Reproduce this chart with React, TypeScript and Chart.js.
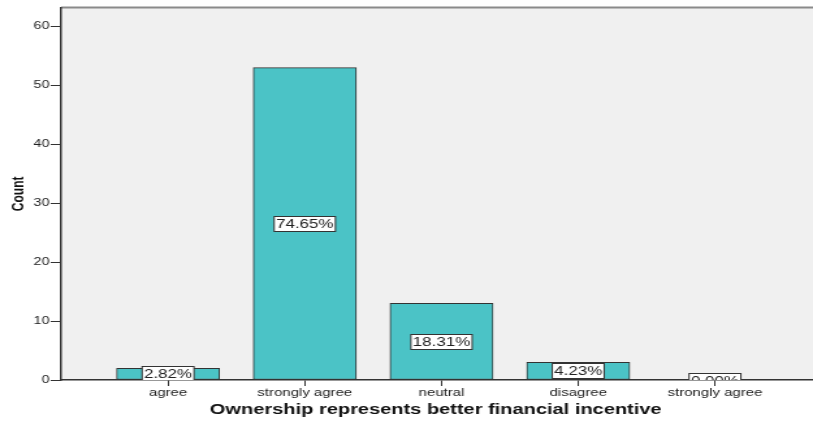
import React, { useEffect, useRef } from 'react';
import { Chart, registerables } from 'chart.js';
Chart.register(...registerables);

const categories = ['agree', 'strongly agree', 'neutral', 'disagree', 'strongly agree'];
const counts = [2, 53, 13, 3, 0];
const percentLabels = ['2.82%', '74.65%', '18.31%', '4.23%', '0.00%'];
const yTickValues = [0, 10, 20, 30, 40, 50, 60];
const xTitle = 'Ownership represents better financial incentive';
const yTitle = 'Count';

const FONT = '"Liberation Sans", Arial, sans-serif';
// The reference is an SPSS chart stretched horizontally; draw in a narrower canvas and stretch it.
const DISPLAY_W = 813;
const DISPLAY_H = 425;
const CANVAS_W = 625;

export default function App() {
  const ref = useRef<HTMLCanvasElement>(null);
  useEffect(() => {
    const canvas = ref.current!;
    const plugin = {
      id: 'spssLook',
      beforeDraw(chart: any) {
        const { ctx, chartArea: a } = chart;
        ctx.save();
        ctx.fillStyle = '#f0f0f0';
        ctx.fillRect(a.left, a.top, a.right - a.left, a.bottom - a.top);
        ctx.strokeStyle = '#8a8a8a';
        ctx.lineWidth = 2;
        ctx.beginPath();
        ctx.moveTo(a.left, a.top);
        ctx.lineTo(a.right, a.top);
        ctx.stroke();
        ctx.restore();
      },
      afterDatasetsDraw(chart: any) {
        const { ctx, chartArea: a } = chart;
        const meta = chart.getDatasetMeta(0);
        ctx.save();
        ctx.beginPath();
        ctx.rect(a.left, a.top, a.right - a.left, a.bottom - a.top);
        ctx.clip();
        ctx.font = '13px ' + FONT;
        ctx.textBaseline = 'middle';
        ctx.textAlign = 'center';
        meta.data.forEach((bar: any, i: number) => {
          const text = percentLabels[i];
          const cx = bar.x;
          const cy = (bar.y + bar.base) / 2;
          const w = ctx.measureText(text).width;
          const bw = w + 3;
          const bh = 15;
          const bx = cx - bw / 2;
          const by = Math.round(cy - bh / 2) + 0.5;
          ctx.fillStyle = '#ffffff';
          ctx.fillRect(bx, by, bw, bh);
          ctx.strokeStyle = '#333333';
          ctx.lineWidth = 1;
          ctx.strokeRect(bx, by, bw, bh);
          ctx.fillStyle = '#222222';
          ctx.fillText(text, cx, cy + 1);
        });
        ctx.restore();
      },
      afterDraw(chart: any) {
        const { ctx, chartArea: a } = chart;
        ctx.save();
        ctx.font = 'bold 15.4px ' + FONT;
        ctx.fillStyle = '#111111';
        ctx.textAlign = 'center';
        ctx.textBaseline = 'middle';
        ctx.fillText(xTitle, (a.left + a.right) / 2 - 1, 410);
        ctx.restore();
        ctx.save();
        ctx.font = 'bold 12px ' + FONT;
        ctx.fillStyle = '#111111';
        ctx.textAlign = 'center';
        ctx.textBaseline = 'middle';
        ctx.translate(14.2, (a.top + a.bottom) / 2);
        ctx.rotate(-Math.PI / 2);
        ctx.fillText(yTitle, 0, 0);
        ctx.restore();
      },
    };

    const chart = new Chart(canvas, {
      type: 'bar',
      data: {
        datasets: [
          {
            data: counts.map((c, i) => ({ x: i, y: c })),
            backgroundColor: '#4bc3c6',
            borderColor: '#333333',
            borderWidth: 1,
            borderSkipped: false,
            barThickness: 79.2,
          },
        ],
      },
      options: {
        responsive: false,
        animation: false,
        devicePixelRatio: 1,
        layout: { padding: { top: 5, right: 0, left: 0, bottom: 0 } },
        plugins: { legend: { display: false }, tooltip: { enabled: false } },
        scales: {
          x: {
            type: 'linear',
            min: -0.782,
            max: 4.717,
            offset: false,
            afterBuildTicks: (scale: any) => {
              scale.ticks = categories.map((_, i) => ({ value: i }));
            },
            afterFit: (scale: any) => {
              scale.height = 45;
            },
            grid: {
              offset: false,
              drawOnChartArea: false,
              drawTicks: true,
              tickLength: 6,
              color: '#333333',
            },
            border: { color: '#333333', width: 1.5 },
            ticks: {
              autoSkip: false,
              maxRotation: 0,
              padding: 0,
              color: '#222222',
              font: { family: FONT, size: 11.5 },
              callback: (v: any) => categories[v as number] ?? '',
            },
            title: { display: false },
          },
          y: {
            type: 'linear',
            min: 0,
            max: 63.2,
            afterBuildTicks: (scale: any) => {
              scale.ticks = yTickValues.map((v) => ({ value: v }));
            },
            afterFit: (scale: any) => {
              scale.width = 47;
            },
            grid: {
              drawOnChartArea: false,
              drawTicks: true,
              tickLength: 8,
              color: '#333333',
            },
            border: { color: '#333333', width: 1.5 },
            ticks: {
              padding: 1,
              color: '#222222',
              font: { family: FONT, size: 11 },
            },
            title: { display: false },
          },
        },
      },
      plugins: [plugin],
    });
    return () => chart.destroy();
  }, []);

  return (
    <div style={{ position: 'fixed', left: 0, top: 0, width: DISPLAY_W, height: DISPLAY_H, background: '#ffffff' }}>
      <canvas
        ref={ref}
        width={CANVAS_W}
        height={DISPLAY_H}
        style={{ display: 'block', width: DISPLAY_W + 'px', height: DISPLAY_H + 'px' }}
      />
    </div>
  );
}
